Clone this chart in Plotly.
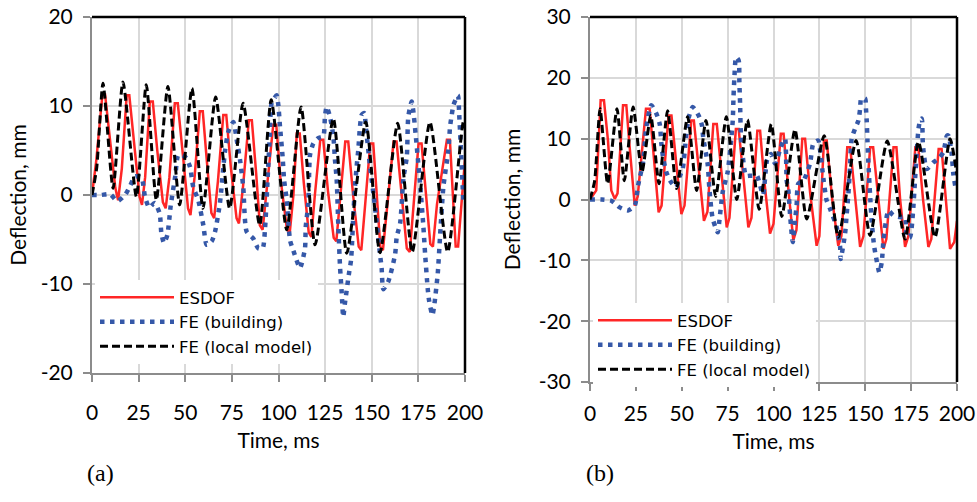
import plotly.graph_objects as go

# ---------------- data (a) ----------------
t_esdof_a = [0, 2.3, 5.6, 7.0, 9.5, 12.5, 14, 16, 18.6, 20, 22.5, 25.5, 26.8, 28.5, 31, 32.6, 35, 38, 39.5, 41.5,
             44.4, 46, 48.5, 51.5, 52.8, 55, 57.8, 59.4, 61.5, 64, 65.5, 67.5, 70.4, 72, 74.5, 77.5, 78.8, 81,
             84.1, 85.7, 88, 90, 91.5, 93.5, 97.2, 98.8, 101, 104.5, 106, 108, 109.8, 111.4, 113.5, 116.2,
             117.6, 119.5, 122.4, 124, 126.5, 129.6, 131, 133, 135.8, 137.4, 140, 143, 144.4, 146.5, 149.2,
             150.8, 152.5, 154.6, 156, 158.5, 161.7, 163.3, 166, 168.8, 170.4, 172.5, 175.1, 176.7, 179,
             181.4, 182.8, 185, 190.3, 191.9, 193.5, 195, 196.3, 198, 200]
d_esdof_a = [0, 3.9, 11.3, 11.3, 6.5, 0.8, -0.6, 3, 11.2, 11.2, 6, -0.2, -1.1, 2, 10.5, 10.5, 5, -0.8, -1.5, 2,
             10.3, 10.3, 5, -1.5, -2.25, 2, 9.4, 9.4, 4, -2, -2.6, 1.5, 9.0, 9.0, 3, -2.6, -3.2, 1,
             8.4, 8.4, 2.5, -3.4, -3.9, 0.5, 7.9, 7.9, 2, -3.8, -4.3, 0, 6.9, 6.9, 1.5, -4.2,
             -4.7, 0, 6.2, 6.2, 0.5, -4.8, -5.2, -0.5, 6.0, 6.0, 0, -5.8, -6.2, -1, 5.8,
             5.8, 0, -5.8, -6.2, -1, 6.0, 6.0, 0, -6, -6.4, -1, 5.8, 5.8, 0,
             -5.5, -5.8, -1, 6.2, 6.2, 0, -5.8, -5.8, -1, 4]

t_build_a = [0, 4.6, 9.7, 13.6, 17.7, 20.4, 23.1, 26.6, 28.4, 30.7, 33.6, 36.3, 37.2, 38.6, 40.4, 42.2, 44.7,
             46.3, 49.9, 52.5, 54.3, 57, 59.7, 61.5, 64.2, 66, 68.6, 71.3, 73.1, 75.8, 77.6, 79.4, 81.1, 82.9,
             86.5, 89.2, 91.5, 92.8, 94.2, 95.4, 96.3, 99, 99.9, 100.8, 102.2, 103, 104.4, 106.2, 107.9, 111.5,
             114.2, 114.6, 116, 116.9, 118.7, 121.3, 124, 124.9, 125.8, 127.6, 129.4, 130.3, 131.2, 132.1, 133,
             133.9, 134.7, 135.6, 137.8, 138.9, 140.1, 141, 141.9, 142.8, 143.7, 144.6, 146, 146.8, 149.1,
             151.7, 154.4, 155.3, 156.2, 158.9, 162.5, 163.4, 165.2, 167, 168.8, 169.6, 171.4, 172.3, 175.9,
             177.7, 178.6, 180, 180.7, 182.5, 183.5, 185.4, 186.6, 188.4, 191.1, 192, 192.9, 193.8, 196.2,
             196.9, 199.1]
d_build_a = [0, 0, 0.1, -0.7, 0, 1.0, 2.1, 1.9, -0.2, -1.4, -0.9, -2.1, -4.3, -5.4, -4.5, -1.2, 2.2,
             4.5, 4.3, 3.2, 0.9, -0.6, -3.4, -5.6, -5.2, -4.1, -0.9, 4.9, 7.1, 8.2, 6.2, 3.9, 0.9, -4.1,
             -4.9, -6.0, -6.0, -3.7, 2.0, 6.9, 10.3, 11.2, 10.1, 7.7, 4.3, 1.7, -0.6, -5.1, -6.2, -8.2,
             -6.0, -3.6, -0.9, 4.5, 5.8, 6.4, 6.6, 8.8, 9.9, 8.8, 6.6, 3.9, 1.7, -3.6, -8.1,
             -11.0, -13.7, -12.2, -8.8, -7.3, -2.4, 0.9, 3.2, 5.1, 7.7, 9.0, 9.2, 7.7, 3.2,
             -1.3, -6.6, -8.2, -10.6, -9.7, -6.7, -4.7, -3.2, 1.9, 4.3, 8.8, 10.5, 9.4, 1.3,
             -3.6, -6.6, -10.5, -11.8, -13.5, -12.4, -8.8, -4.7, 0.9, 5.1, 7.7, 9.0, 10.1, 11.2,
             9.0, -0.6]

t_local_a = [0, 2.5, 5.9, 11.3, 16.6, 23.8, 29.1, 34.5, 40.7, 47.0, 53.6, 59.5, 66.3, 73.8, 81.0, 89.9, 96.1,
             104.4, 112.1, 119.6, 129.4, 136.6, 146.8, 154.4, 163.9, 171.7, 181.2, 190.7, 199.1, 200]
d_local_a = [0, 3, 12.55, 0.75, 12.7, -0.2, 12.4, -0.56, 12.2, -1.1, 12.0, -1.5, 11.0, -1.5, 10.3, -3.4, 10.7,
             -3.9, 9.9, -5.6, 8.6, -6.55, 8.2, -6.5, 8.05, -6.4, 8.2, -6.4, 8.2, 7.5]

# ---------------- data (b) ----------------
t_esdof_b = [0, 3.4, 5.8, 7.6, 9.8, 11.6, 13.5, 15, 18, 19.8, 21.5, 24.4, 26, 30.5, 32.5, 34.5, 37.4, 39,
             42.8, 44.4, 46.5, 49.8, 51.5, 55.2, 56.6, 59, 62.1, 64, 67.2, 69.1, 71.5, 74.5, 76, 79.5, 81,
             83.5, 86.3, 88, 91.2, 92.7, 95, 98.1, 100, 104, 105.5, 108, 110.8, 112.5, 115.7, 117.2, 120,
             123.5, 125, 127.5, 129, 132, 135.3, 137, 140.2, 141.8, 144.5, 147.2, 149, 152.7, 154.3, 157,
             159.9, 161.5, 165.4, 167, 169, 171.7, 173.5, 177.3, 178.9, 181.5, 184.4, 186, 190, 191.6, 194,
             196.2, 198.5, 200]
d_esdof_b = [0, 1.5, 16.3, 16.3, 9.7, 1.5, 0.1, 1, 15.5, 15.5, 9, -1.0, 0.5, 14.9, 14.9, 8, -2.1, -1,
             13.8, 13.8, 7, -2.4, -1, 13.0, 13.0, 6, -3.5, -2, 12.4, 12.4, 5, -4.6, -3, 11.6, 11.6,
             4, -4.6, -3, 11.3, 11.3, 3, -5.6, -4, 10.8, 10.8, 2, -6.7, -5, 10.0, 10.0, 1,
             -7.6, -6, 9.7, 9.7, 0, -7.6, -6, 8.6, 8.6, 0, -7.8, -6, 8.6, 8.6, 0,
             -8.1, -6.5, 8.6, 8.6, 0, -7.8, -6, 8.6, 8.6, 0, -7.8, -6.5, 8.3, 8.3, 0,
             -8.1, -7, -3.5]

t_build_b = [0, 6.2, 11.6, 16.2, 20.7, 24.4, 26.2, 28.9, 30.7, 33.4, 36.2, 38, 38.9, 39.8, 41.6, 44.3, 47,
             48.7, 50.5, 52.3, 53.2, 54.1, 56, 59.2, 61, 61.7, 64.1, 65, 66, 66.9, 69.6, 70.5, 72.3, 75,
             76.9, 77.8, 78.2, 78.7, 79.6, 81, 81.4, 81.8, 82.3, 85, 86.8, 89.5, 91, 94.3, 96.5, 98.6, 100.8,
             103.5, 105.4, 106.3, 107.2, 108.1, 109, 109.9, 110.5, 111.7, 112.6, 113.5, 116.3, 119.9, 121.7,
             124.4, 125.4, 127.2, 129, 130.8, 134.5, 136.3, 136.6, 139, 139.9, 140.8, 141.7, 142.6, 144.4,
             146.3, 147.2, 147.8, 149.9, 150.4, 150.8, 151.2, 151.7, 152.6, 153.5, 154.8, 155.9, 157.7, 159,
             159.9, 161.3, 162.6, 165.3, 169, 171.7, 172.6, 174.4, 175.3, 176.2, 177.1, 178, 179, 179.9,
             180.8, 181.3, 181.7, 183.5, 187.1, 189.8, 192.6, 194.5, 195.3, 197.1, 198, 199]
d_build_b = [0, 0, -0.2, -1.3, -1.8, -1.0, 2.3, 6.1, 11.9, 15.5, 14.1, 12.4, 9.2, 7.0, 4.5, 2.8, 2.0,
             3.7, 5.0, 10.2, 12.4, 13.8, 15.2, 13.8, 12.2, 10.2, 5.9, 2.0, -1.3, -3.2, -5.4, -3.5, 1.2, 4.5,
             9.7, 13.0, 16.8, 20.1, 23.4, 22.9, 19.3, 15.7, 10.5, 3.9, 3.9, 3.9, 3.9, 0.8, 6.5, 7.5, 5.9,
             8.1, 9.7, 10.0, 3.1, 1.5, -2.4, -5.6, -7.0, -3.5, -1.0, 2.6, 3.1, 5.9, 9.2,
             9.7, 8.1, 3.4, -0.2, -1.5, -4.6, -7.8, -9.8, -5.6, -2.4, 0.9, 5.3, 10.0, 11.6,
             13.0, 14.9, 16.6, 16.6, 14.9, 13.0, 9.7, 6.1, 0.9, -3.5, -7.6, -9.5, -12.0, -10.3,
             -6.7, -3.5, -1.8, -2.6, -2.9, -2.9, -6.2, -6.2, -4.6, -1.3, 3.1, 7.5, 11.6, 13.0,
             13.3, 9.7, 8.1, 5.0, 6.1, 6.7, 7.8, 10.5, 10.5, 7.5, 4.2, 2.3]

t_local_b = [0, 2.5, 5.5, 9.6, 14.7, 18.7, 23.5, 28.3, 33.1, 37.6, 42.3, 47.2, 53.2, 58.1, 63.2, 68.5, 74.3,
             80, 85.8, 92.2, 98.8, 104.5, 111.7, 118.1, 127.6, 135.3, 145, 152.6, 162, 171.7, 179, 188,
             196.2, 200]
d_local_b = [0, 3, 14.9, 2.6, 14.9, 3.1, 15.2, 4.5, 13.8, 2.6, 14.6, 1.8, 13.6, 1.5, 13.0, 0.5, 13.6,
             0, 13.1, -1.6, 12.4, -2.8, 11.5, -3.2, 10.5, -6.2, 9.7, -5.9, 9.6, -6.5, 9.5, -6.2,
             10.0, 4]

series_names = ["ESDOF", "FE (building)", "FE (local model)"]
x_ticks = [0, 25, 50, 75, 100, 125, 150, 175, 200]
y_ticks_a = [-20, -10, 0, 10, 20]
y_ticks_b = [-30, -20, -10, 0, 10, 20, 30]

# ---------------- styling ----------------
RED = "#FF2626"
BLUE = "#3558A8"
BLACK = "#000000"
FONT = "Lato"
LEG_FONT = "DejaVu Sans"
GRID = "#D9D9D9"
AXIS = "#8C8C8C"

styles = [
    dict(color=RED, width=2.5, dash="solid", shape="linear"),
    dict(color=BLUE, width=4.5, dash="4.5px,5.5px", shape="spline"),
    dict(color=BLACK, width=3, dash="8px,4px", shape="spline"),
]

fig = go.Figure()
panels = [
    ("x", "y", "legend", [(t_esdof_a, d_esdof_a), (t_build_a, d_build_a), (t_local_a, d_local_a)]),
    ("x2", "y2", "legend2", [(t_esdof_b, d_esdof_b), (t_build_b, d_build_b), (t_local_b, d_local_b)]),
]
for xa, ya, leg, data in panels:
    for (t, d), name, st in zip(data, series_names, styles):
        assert len(t) == len(d), (name, len(t), len(d))
        fig.add_trace(go.Scatter(
            x=t, y=d, mode="lines", name=name, xaxis=xa, yaxis=ya, legend=leg,
            line=dict(color=st["color"], width=st["width"], dash=st["dash"], shape=st["shape"],
                      smoothing=0.6 if st["shape"] == "spline" else None),
            hoverinfo="skip",
        ))

# the page body margin is removed (post_script below), so the figure fills the window
W, H = 977, 502


def fx(px):
    return px / W


def fy(py):
    return 1 - py / H


common_ax = dict(showgrid=True, gridcolor=GRID, gridwidth=2, showline=True, linecolor=AXIS, linewidth=2,
                 ticks="outside", ticklen=7, tickcolor=AXIS, tickwidth=2, zeroline=False, automargin=False,
                 ticklabeloverflow="allow",
                 tickfont=dict(family=FONT, size=21, color="black"))
xax = dict(common_ax, range=[0, 200], tickvals=x_ticks, ticktext=[str(v) for v in x_ticks])


def yax(ticks):
    return dict(common_ax, range=[ticks[0], ticks[-1]], tickvals=ticks, ticktext=[str(v) for v in ticks])


leg_common = dict(xanchor="left", yanchor="top", bgcolor="white",
                  font=dict(family=LEG_FONT, size=16.5, color="black"), itemwidth=74, tracegroupgap=0)

fig.update_layout(
    width=W, height=H, margin=dict(l=0, r=0, t=0, b=0, autoexpand=False),
    paper_bgcolor="white", plot_bgcolor="white",
    font=dict(family=FONT, color="black"),
    xaxis=dict(xax, domain=[fx(92), fx(465)], anchor="y", ticklabelstandoff=13,
               title=dict(text="Time, ms", font=dict(size=21), standoff=10)),
    yaxis=dict(yax(y_ticks_a), domain=[fy(373), fy(17)], anchor="x", ticklabelstandoff=6,
               title=dict(text="Deflection, mm", font=dict(size=21), standoff=8)),
    xaxis2=dict(xax, domain=[fx(590), fx(957)], anchor="y2", ticklabelstandoff=5,
                title=dict(text="Time, ms", font=dict(size=21), standoff=10)),
    yaxis2=dict(yax(y_ticks_b), domain=[fy(382), fy(17)], anchor="x2", ticklabelstandoff=6,
                title=dict(text="Deflection, mm", font=dict(size=21), standoff=12)),
    legend=dict(leg_common, x=fx(95), y=fy(280)),
    legend2=dict(leg_common, x=fx(593), y=fy(303)),
    showlegend=True,
)

# black top/right frame
for xr, yr in (("x domain", "y domain"), ("x2 domain", "y2 domain")):
    fig.add_shape(type="line", xref=xr, yref=yr, x0=0, x1=1, y0=1, y1=1, line=dict(color="black", width=2.5))
    fig.add_shape(type="line", xref=xr, yref=yr, x0=1, x1=1, y0=0, y1=1, line=dict(color="black", width=2.5))

fig.add_annotation(text="(a)", x=fx(85), y=fy(488), xref="paper", yref="paper", showarrow=False,
                   font=dict(family="Liberation Serif", size=24, color="black"))
fig.add_annotation(text="(b)", x=fx(600), y=fy(488), xref="paper", yref="paper", showarrow=False,
                   font=dict(family="Liberation Serif", size=24, color="black"))

fig.write_html("out.html", config={"displayModeBar": False},
               post_script="document.body.style.margin='0px';")
